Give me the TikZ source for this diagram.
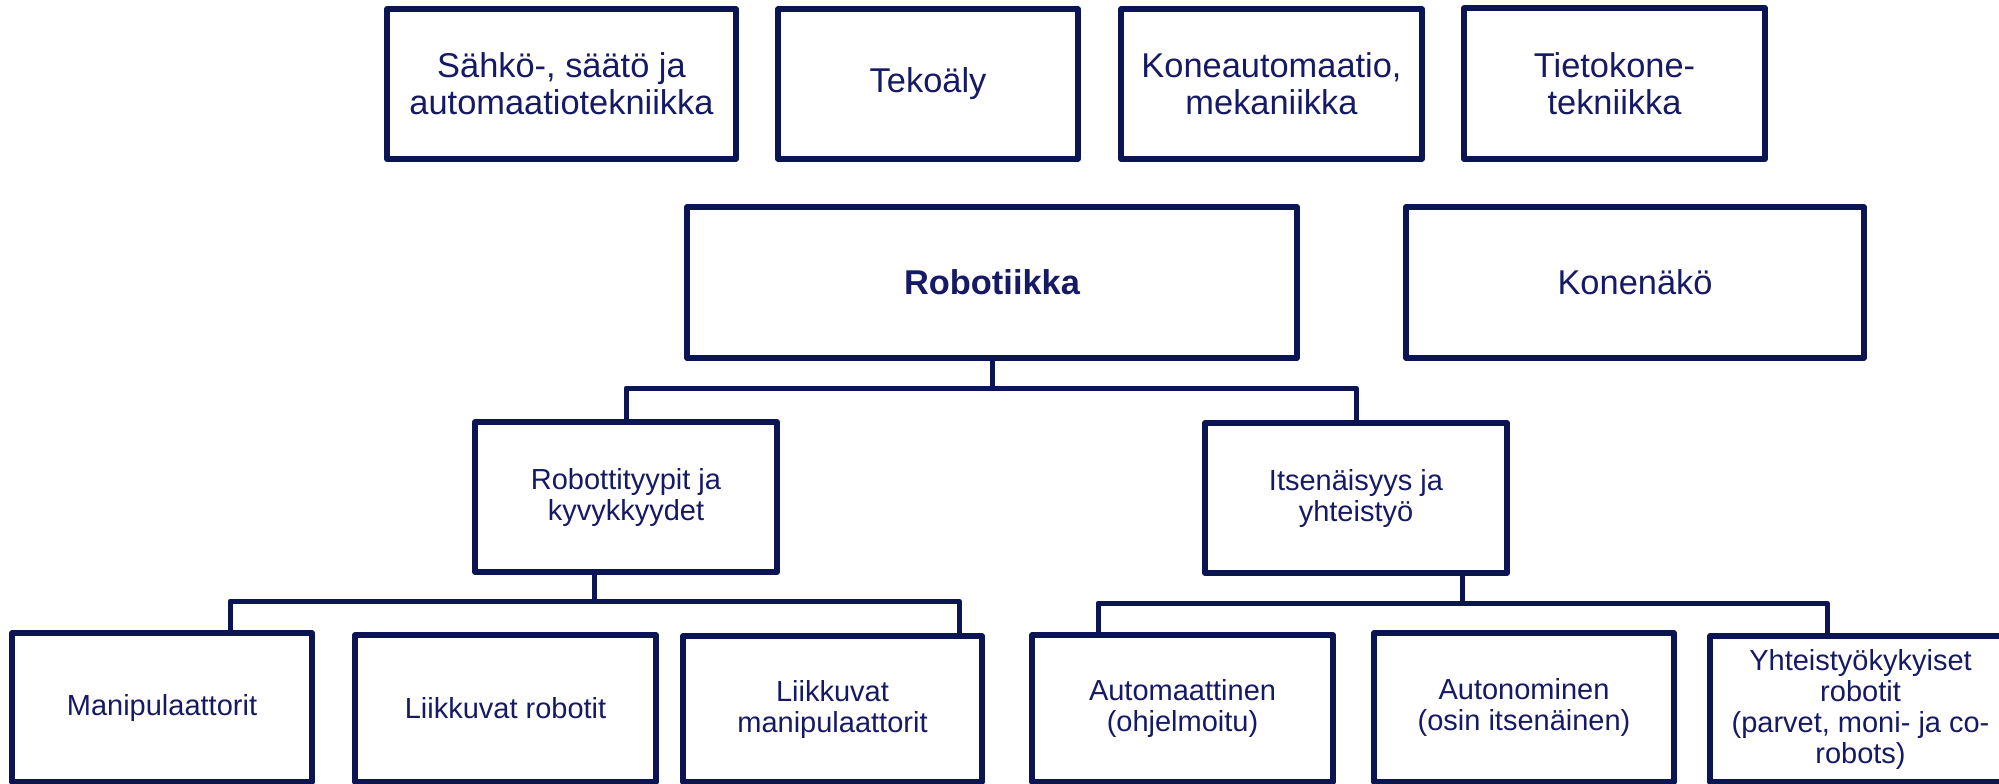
\documentclass[tikz,border=0pt]{standalone}
\usepackage{fontspec}
\setmainfont{Liberation Sans}
\definecolor{bordercol}{RGB}{11,21,84}
\definecolor{textcol}{RGB}{22,26,100}
\tikzset{
  box/.style={draw=bordercol, line width=5.5pt, line join=round, fill=white, inner sep=0pt,
    align=center, text=textcol},
  bigtext/.style={font=\fontsize{34.4}{37}\selectfont},
  smalltext/.style={font=\fontsize{29}{31}\selectfont},
  conn/.style={draw=bordercol, line width=5pt, line join=round}
}
\begin{document}
\begin{tikzpicture}[x=1pt,y=-1pt]
\path[use as bounding box] (0,0) rectangle (1999,784);
\clip (0,0) rectangle (1999,784);
\fill[white] (0,0) rectangle (1999,784);

% top row
\node[box,bigtext,minimum width=349pt,minimum height=150pt] (sahko) at (561.5,84) {Sähkö-, säätö ja\\automaatiotekniikka};
\node[box,bigtext,minimum width=300pt,minimum height=150pt] (teko) at (928,84) {Tekoäly};
\node[box,bigtext,minimum width=301pt,minimum height=150pt] (kone) at (1271.5,84) {Koneautomaatio,\\mekaniikka};
\node[box,bigtext,minimum width=301pt,minimum height=151pt] (tieto) at (1614.5,83.5) {Tietokone-\\tekniikka};

% second row
\node[box,bigtext,minimum width=610pt,minimum height=151pt,font=\fontsize{34.4}{37}\selectfont\bfseries] (rob) at (992,282.5) {Robotiikka};
\node[box,bigtext,minimum width=458pt,minimum height=151pt] (kn) at (1635,282.5) {Konenäkö};

% third row
\node[box,smalltext,minimum width=302pt,minimum height=150pt] (rt) at (626,497) {Robottityypit ja\\kyvykkyydet};
\node[box,smalltext,minimum width=302pt,minimum height=150pt] (it) at (1356,498) {Itsenäisyys ja\\yhteistyö};

% bottom row
\node[box,smalltext,minimum width=300pt,minimum height=149pt] (m1) at (162,707.5) {Manipulaattorit};
\node[box,smalltext,minimum width=301pt,minimum height=147pt] (m2) at (505.5,708.5) {Liikkuvat robotit};
\node[box,smalltext,minimum width=299pt,minimum height=146pt] (m3) at (832.5,709) {Liikkuvat\\manipulaattorit};
\node[box,smalltext,minimum width=301pt,minimum height=147pt] (a1) at (1182.5,708.5) {Automaattinen\\(ohjelmoitu)};
\node[box,smalltext,minimum width=300pt,minimum height=149pt] (a2) at (1524,707.5) {Autonominen\\(osin itsenäinen)};
\node[box,smalltext,minimum width=301pt,minimum height=146pt] (a3) at (1860.5,709) {Yhteistyökykyiset\\robotit\\(parvet, moni- ja co-\\robots)};

% connector junctions
\coordinate (j1) at (992,388);
\coordinate (j2) at (594,601);
\coordinate (d1) at (230,601);
\coordinate (d2) at (959,601);
\coordinate (j3) at (1462,603);
\coordinate (d3) at (1098,603);
\coordinate (d4) at (1827,603);

\draw[conn] (rob.south) -- (j1);
\draw[conn] (rt.north) |- (j1) -| (it.north);

\draw[conn] (rt.south -| j2) -- (j2);
\draw[conn] (d1 |- m1.north) -- (d1) -- (d2) -- (d2 |- m3.north);

\draw[conn] (it.south -| j3) -- (j3);
\draw[conn] (d3 |- a1.north) -- (d3) -- (d4) -- (d4 |- a3.north);
\end{tikzpicture}
\end{document}
